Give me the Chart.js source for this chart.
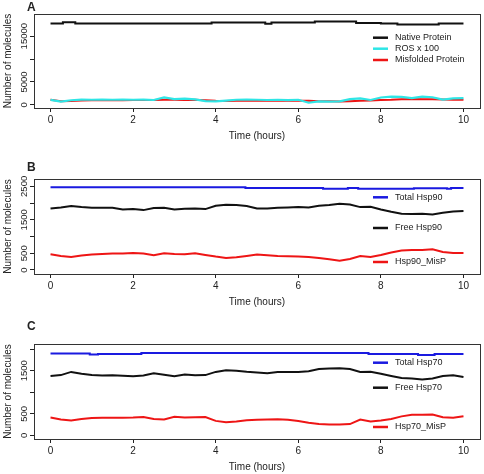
<!DOCTYPE html>
<html>
<head>
<meta charset="utf-8">
<script src="https://cdn.jsdelivr.net/npm/chart.js@4.4.0/dist/chart.umd.min.js"></script>
<style>
  html, body { margin: 0; padding: 0; background: #fff; }
  #wrap { position: relative; width: 484px; height: 474px; }
  canvas { position: absolute; left: 0; }
</style>
</head>
<body>
<div id="wrap">
  <canvas id="panelA" width="484" height="155" style="top:0px"></canvas>
  <canvas id="panelB" width="484" height="155" style="top:155px"></canvas>
  <canvas id="panelC" width="484" height="164" style="top:310px"></canvas>
</div>
<script>
// time grid (hours) shared by the noisy traces
const timeGrid = [0, 0.25, 0.5, 0.75, 1, 1.25, 1.5, 1.75, 2, 2.25, 2.5, 2.75, 3, 3.25, 3.5, 3.75,
  4, 4.25, 4.5, 4.75, 5, 5.25, 5.5, 5.75, 6, 6.25, 6.5, 6.75, 7, 7.25, 7.5, 7.75,
  8, 8.25, 8.5, 8.75, 9, 9.25, 9.5, 9.75, 10];
const xTicks = [0, 2, 4, 6, 8, 10];

// Panel A
const nativeTime = [0, 0.3, 0.6, 3.9, 5.2, 5.35, 6.4, 7.4, 8.0, 8.4, 9.4, 10];
const nativeProtein = [17750, 18050, 17750, 17970, 17700, 17970, 18200, 17900, 17750, 17530, 17750, 17750];
const rosX100 = [1090, 700, 1000, 1150, 1100, 1150, 1100, 1150, 1100, 1150, 1050, 1600, 1250, 1350, 1200, 800,
  750, 900, 1100, 1150, 1100, 1050, 1100, 1000, 1100, 450, 750, 700, 750, 1250, 1400, 1050,
  1600, 1800, 1750, 1450, 1800, 1650, 1150, 1400, 1450];
const misfoldedProtein = [1090, 800, 850, 950, 1000, 1000, 1050, 1000, 1050, 1050, 1050, 1100, 1100, 1050, 1100, 1000,
  900, 850, 870, 900, 950, 900, 870, 870, 900, 870, 800, 750, 720, 800, 900, 950,
  1050, 1100, 1200, 1250, 1230, 1200, 1150, 1100, 1100];
const yTicksA = [0, 5000, 10000, 15000];
const yLabelsA = ['0', '5000', '', '15000'];

// Panel B
const totalHsp90Time = [0, 4.72, 6.6, 7.2, 7.45, 8.8, 9.6, 9.7, 10];
const totalHsp90 = [2470, 2450, 2430, 2450, 2430, 2440, 2430, 2450, 2450];
const freeHsp90 = [1840, 1870, 1910, 1880, 1860, 1860, 1860, 1810, 1820, 1790, 1850, 1860, 1810, 1830, 1840, 1820,
  1920, 1950, 1940, 1910, 1840, 1840, 1860, 1870, 1880, 1870, 1920, 1940, 1980, 1960, 1880, 1890,
  1810, 1740, 1680, 1670, 1680, 1660, 1710, 1750, 1760];
const hsp90MisP = [470, 420, 390, 430, 460, 480, 490, 495, 510, 490, 440, 500, 480, 470, 500, 450,
  400, 360, 380, 420, 460, 440, 420, 410, 400, 390, 360, 320, 280, 330, 420, 390,
  450, 520, 580, 600, 600, 620, 540, 510, 510];
const yTicksB = [0, 500, 1000, 1500, 2000, 2500];
const yLabelsB = ['0', '500', '', '1500', '', '2500'];

// Panel C
const totalHsp70Time = [0, 0.95, 1.15, 2.2, 7.7, 8.9, 9.3, 10];
const totalHsp70 = [1900, 1877, 1891, 1914, 1891, 1868, 1891, 1891];
const freeHsp70 = [1380, 1400, 1474, 1430, 1400, 1390, 1396, 1385, 1375, 1390, 1440, 1410, 1373, 1415, 1395, 1400,
  1474, 1515, 1500, 1475, 1460, 1445, 1470, 1474, 1474, 1490, 1540, 1555, 1560, 1540, 1474, 1478,
  1430, 1380, 1330, 1318, 1295, 1320, 1380, 1395, 1357];
const hsp70MisP = [413, 370, 343, 380, 400, 406, 406, 410, 413, 425, 380, 370, 429, 415, 420, 425,
  335, 305, 320, 350, 360, 367, 374, 360, 330, 290, 262, 252, 250, 260, 367, 320,
  345, 380, 440, 476, 476, 484, 420, 410, 445];
const yTicksC = [0, 500, 1000, 1500, 2000];
const yLabelsC = ['0', '500', '', '1500', ''];

const FONT = '"Liberation Sans", Arial, sans-serif';
const BLACK = '#111111', CYAN = '#2EE6E6', RED = '#EE1515', BLUE = '#1A1AE0';

function pts(xs, ys) {
  return xs.map((x, i) => ({ x: x, y: ys[i] }));
}

// box, rotated y labels, titles, panel letter and legend
const decor = {
  id: 'decor',
  afterDraw(chart, args, o) {
    const ctx = chart.ctx, a = chart.chartArea, ys = chart.scales.y;
    ctx.save();
    ctx.strokeStyle = '#333';
    ctx.lineWidth = 1;
    ctx.strokeRect(a.left + 0.5, a.top + 0.5, a.right - a.left, a.bottom - a.top);

    ctx.fillStyle = '#222';
    ctx.textBaseline = 'middle';
    ctx.font = 'bold 12px ' + FONT;
    ctx.textAlign = 'left';
    ctx.fillText(o.letter, 27, o.letterY);

    ctx.font = '10px ' + FONT;
    ctx.textAlign = 'center';
    ctx.save();
    ctx.translate(8, (a.top + a.bottom) / 2);
    ctx.rotate(-Math.PI / 2);
    ctx.fillText('Number of molecules', 0, 0);
    ctx.restore();

    ctx.font = '9.5px ' + FONT;
    o.tickValues.forEach((v, i) => {
      if (!o.tickLabels[i]) return;
      ctx.save();
      ctx.translate(24, ys.getPixelForValue(v));
      ctx.rotate(-Math.PI / 2);
      ctx.fillText(o.tickLabels[i], 0, 0);
      ctx.restore();
    });

    ctx.font = '10px ' + FONT;
    ctx.fillText('Time (hours)', (a.left + a.right) / 2, a.bottom + 28);

    ctx.font = '9px ' + FONT;
    ctx.textAlign = 'left';
    o.legend.forEach(item => {
      ctx.strokeStyle = item.color;
      ctx.lineWidth = 2.5;
      ctx.beginPath();
      ctx.moveTo(373, item.y);
      ctx.lineTo(388, item.y);
      ctx.stroke();
      ctx.fillText(item.label, 395, item.y);
    });
    ctx.restore();
  }
};

function makePanel(id, datasets, yMin, yMax, yTicks, yLabels, top, xHeight, letter, letterY, legend) {
  new Chart(document.getElementById(id), {
    type: 'line',
    data: { datasets: datasets },
    options: {
      responsive: false,
      animation: false,
      devicePixelRatio: 1,
      layout: { padding: { left: 0, right: 4, top: top, bottom: 0 } },
      elements: { point: { radius: 0 }, line: { borderWidth: 2, tension: 0 } },
      plugins: {
        legend: { display: false },
        tooltip: { enabled: false },
        decor: { letter: letter, letterY: letterY, tickValues: yTicks, tickLabels: yLabels, legend: legend }
      },
      scales: {
        x: {
          type: 'linear', min: -0.4, max: 10.4,
          afterBuildTicks: s => { s.ticks = xTicks.map(v => ({ value: v })); },
          afterFit: s => { s.height = xHeight; },
          border: { display: false },
          grid: { drawOnChartArea: false, drawTicks: true, tickLength: 4, color: '#222' },
          ticks: { color: '#222', padding: 2, font: { family: FONT, size: 10 }, maxRotation: 0 }
        },
        y: {
          type: 'linear', min: yMin, max: yMax,
          afterBuildTicks: s => { s.ticks = yTicks.map(v => ({ value: v })); },
          afterFit: s => { s.width = 34; },
          border: { display: false },
          grid: { drawOnChartArea: false, drawTicks: true, tickLength: 4, color: '#222' },
          ticks: { display: false }
        }
      }
    },
    plugins: [decor]
  });
}

makePanel('panelA', [
  { data: pts(timeGrid, rosX100), borderColor: CYAN, borderWidth: 2.2 },
  { data: pts(timeGrid, misfoldedProtein), borderColor: RED },
  { data: pts(nativeTime, nativeProtein), borderColor: BLACK, stepped: true }
], -700, 19850, yTicksA, yLabelsA, 14, 47, 'A', 8, [
  { label: 'Native Protein', color: BLACK, y: 37.7 },
  { label: 'ROS x 100', color: CYAN, y: 48.7 },
  { label: 'Misfolded Protein', color: RED, y: 60 }
]);

makePanel('panelB', [
  { data: pts(totalHsp90Time, totalHsp90), borderColor: BLUE, stepped: true },
  { data: pts(timeGrid, freeHsp90), borderColor: BLACK },
  { data: pts(timeGrid, hsp90MisP), borderColor: RED }
], -120, 2720, yTicksB, yLabelsB, 24, 36, 'B', 12.5, [
  { label: 'Total Hsp90', color: BLUE, y: 42.3 },
  { label: 'Free Hsp90', color: BLACK, y: 73 },
  { label: 'Hsp90_MisP', color: RED, y: 107 }
]);

makePanel('panelC', [
  { data: pts(totalHsp70Time, totalHsp70), borderColor: BLUE, stepped: true },
  { data: pts(timeGrid, freeHsp70), borderColor: BLACK },
  { data: pts(timeGrid, hsp70MisP), borderColor: RED }
], -86, 2123, yTicksC, yLabelsC, 34, 35, 'C', 17, [
  { label: 'Total Hsp70', color: BLUE, y: 52.7 },
  { label: 'Free Hsp70', color: BLACK, y: 77.7 },
  { label: 'Hsp70_MisP', color: RED, y: 117 }
]);
</script>
</body>
</html>
